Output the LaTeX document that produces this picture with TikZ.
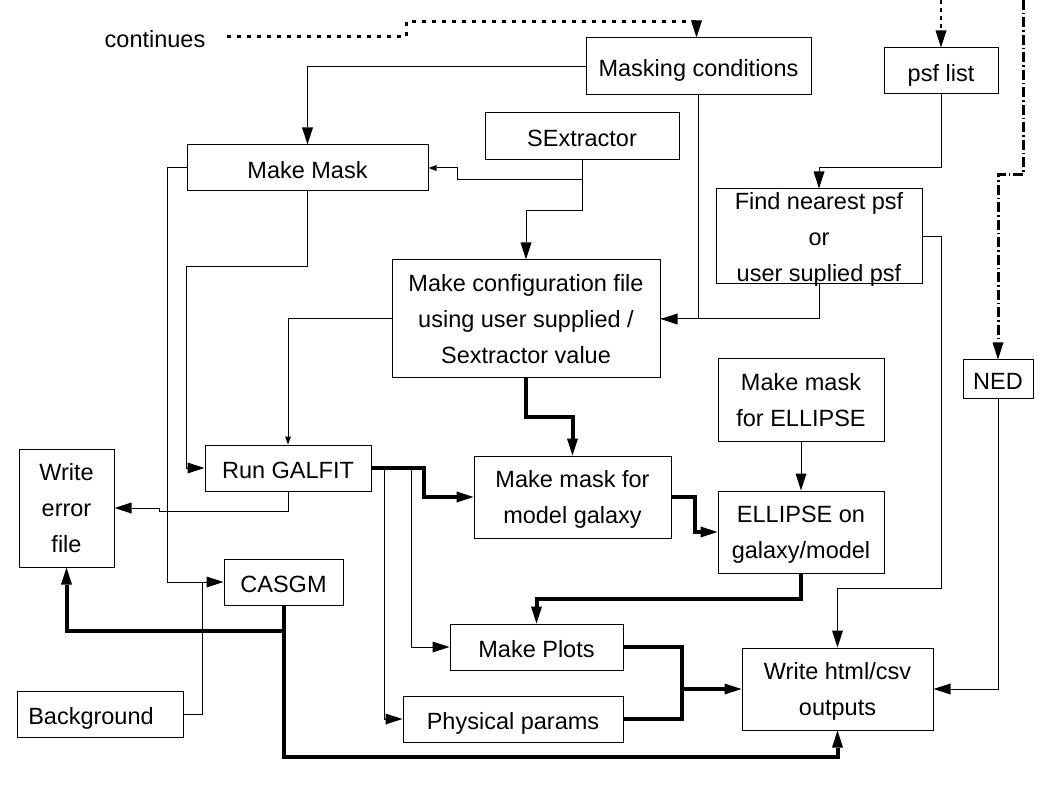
\documentclass[tikz,border=0pt]{standalone}
\usepackage{fontspec}
\setmainfont{Liberation Sans}
\usetikzlibrary{arrows.meta}

\tikzset{
  >={Triangle[length=17pt,width=11pt,line width=0pt]},
  box/.style={draw, line width=1pt, inner sep=0pt, align=center},
  one/.style={text height=22pt, text depth=1pt},
  multi/.style={text depth=-4pt},
  small/.style={>={Triangle[length=8pt,width=6pt,line width=0pt]}},
  heavy/.style={line width=4pt},
  dotline/.style={line width=3pt, dash pattern=on 4pt off 6pt},
  chain/.style={line width=3pt, dash pattern=on 10pt off 3pt on 1.5pt off 3pt},
  fine/.style={line width=2pt, dash pattern=on 4pt off 4pt},
}

\begin{document}
\begin{tikzpicture}[x=1pt, y=-1pt, line width=1pt,
    font=\fontsize{23.5}{36}\selectfont]
		\useasboundingbox (0,0) rectangle (1058,794);
		% boxes
		\node[box, one, minimum width=225, minimum height=57] (masking) at (698.5,66.5) {Masking conditions};
		\node[box, one, minimum width=114, minimum height=46] (psflist) at (941,71) {psf list};
		\node[box, one, minimum width=194, minimum height=47] (sextr) at (582,136.5) {SExtractor};
		\node[box, one, minimum width=241, minimum height=46] (makemask) at (307.5,168) {Make Mask};
		\node[box, multi, minimum width=268, minimum height=118] (config) at (526,319)
		{Make configuration file \\ using user supplied / \\ Sextractor value};
		\node[box, multi, minimum width=206, minimum height=95] (findpsf) at (819,236.5)
		{Find nearest psf \\ or \\ user suplied psf};
		\node[box, multi, minimum width=166, minimum height=82] (maskell) at (801,400) {Make mask \\ for ELLIPSE};
		\node[box, multi, minimum width=166, minimum height=82] (ellipse) at (801,532) {ELLIPSE on \\ galaxy/model};
		\node[box, multi, minimum width=197, minimum height=82] (maskmodel) at (572.5,497) {Make mask for \\ model galaxy};
		\node[box, one, minimum width=166, minimum height=46] (galfit) at (288,468) {Run GALFIT};
		\node[box, multi, minimum width=95, minimum height=118] (errfile) at (66.5,508) {Write \\ error \\ file};
		\node[box, one, minimum width=119, minimum height=46] (casgm) at (283.5,582) {CASGM};
		\node[box, one, minimum width=166, minimum height=46] (backgr) at (100,714) {Background\hspace{18pt}};
		\node[box, one, minimum width=173, minimum height=46] (plots) at (536.5,647) {Make Plots};
		\node[box, one, minimum width=220, minimum height=46] (phys) at (513,719) {Physical params};
		\node[box, multi, minimum width=191, minimum height=82] (html) at (837.5,689) {Write html/csv \\ outputs};
		\node[box, one, minimum width=70, minimum height=38] (ned) at (998,379) {NED};
		\node[one] (continues) at (155,37) {continues};

		% inputs from outside
		\coordinate (psfin) at (941,0);
		\coordinate (nedin) at (1023,0);
		\draw[dotline, ->] ([xshift=18pt]continues.east) -- ++(179,0) -- ++(0,-15) -| ([xshift=-2pt]masking.north);
		\draw[fine, ->] (psfin) -- (psflist.north);
		\draw[chain, ->] (nedin) -- ++(0,175) -| (ned.north);

		% thin connectors
		\draw[->] (masking.west) -| (makemask.north);
		\draw[->] (masking.south) |- (config.east);
		\draw (findpsf.south) |- (config.east);
		\draw[->] (psflist.south) -- ++(0,73) -| (findpsf.north);
		\draw[->] (sextr.south) -- ++(0,50) -| (config.north);
		\draw[small, ->] ([yshift=-19pt]sextr.south) -| ([xshift=29pt]makemask.east) -- (makemask.east);
		\draw[->] (makemask.south) -- ++(0,75) -- ++(-121,0) |- (galfit.west);
		\draw[->] (makemask.west) -- ++(-19,0) |- (casgm.west);
		\draw (backgr.east) -| ([xshift=-21pt]casgm.west);
		\draw[small, ->] (config.west) -| (galfit.north);
		\draw[->] (galfit.south) -- ++(0,20) -| ([xshift=45pt]errfile.east) -- (errfile.east);
		\draw[->] ([xshift=40pt]galfit.east) |- (plots.west);
		\draw[->] ([xshift=13pt]galfit.east) |- (phys.west);
		\draw[->] (maskell) -- (ellipse);
		\draw[->] (findpsf.east) -- ++(19,0) -- ++(0,352) -| (html.north);
		\draw[->] (ned.south) |- (html.east);

		% thick connectors
		\coordinate (join) at (682,689);
		\draw[heavy, ->] (config.south) -- ++(0,38) -| (maskmodel.north);
		\draw[heavy, ->] (galfit.east) -- ++(52,0) |- (maskmodel.west);
		\draw[heavy, ->] (maskmodel.east) -- ++(23,0) |- (ellipse.west);
		\draw[heavy, ->] (ellipse.south) -- ++(0,25) -| (plots.north);
		\draw[heavy] (plots.east) -| (join) |- (phys.east);
		\draw[heavy, ->] (join) -- (html.west);
		\draw[heavy, ->] (casgm.south) -- ++(0,25) -| (errfile.south);
		\draw[heavy, ->] (casgm.south) -- ++(0,151) -| (html.south);
	\end{tikzpicture}
\end{document}
